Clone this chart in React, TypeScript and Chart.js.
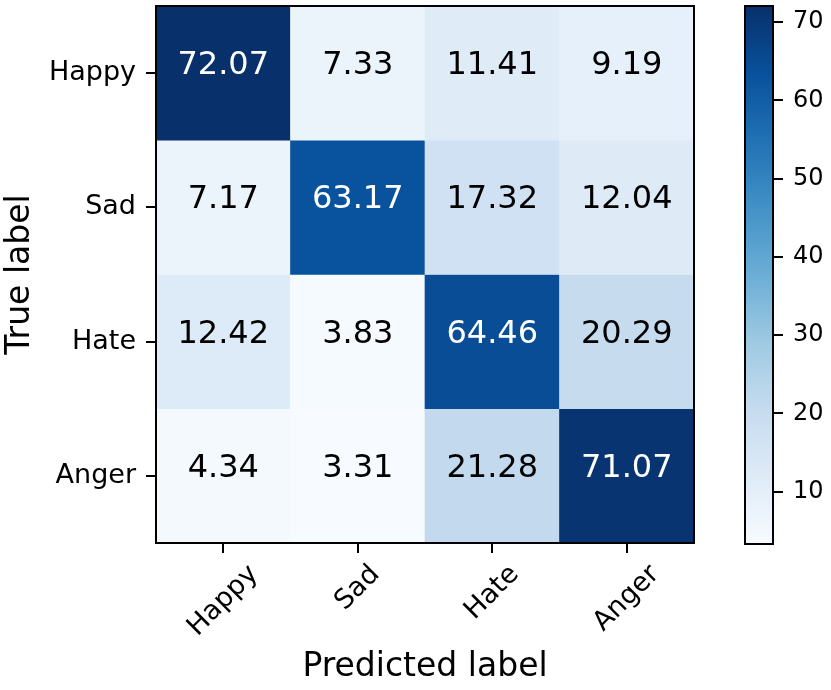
import React, { useEffect, useRef } from "react";
import { Chart, registerables } from "chart.js";

Chart.register(...registerables);

const categories = ["Happy", "Sad", "Hate", "Anger"];
const rowHappy = [72.07, 7.33, 11.41, 9.19];
const rowSad = [7.17, 63.17, 17.32, 12.04];
const rowHate = [12.42, 3.83, 64.46, 20.29];
const rowAnger = [4.34, 3.31, 21.28, 71.07];
const matrixRows = [rowHappy, rowSad, rowHate, rowAnger];
const rowTickValues = [0.5, 1.5, 2.5, 3.5];
const colorbarTicks = [10, 20, 30, 40, 50, 60, 70];
const xTitle = "Predicted label";
const yTitle = "True label";

const FONT = '"DejaVu Sans", "Liberation Sans", sans-serif';
const BLUES: number[][] = [
  [247, 251, 255],
  [222, 235, 247],
  [198, 219, 239],
  [158, 202, 225],
  [107, 174, 214],
  [66, 146, 198],
  [33, 113, 181],
  [8, 81, 156],
  [8, 48, 107],
];

const allValues = matrixRows.flat();
const vmin = Math.min(...allValues);
const vmax = Math.max(...allValues);

function blues(t: number): string {
  const tt = Math.max(0, Math.min(1, t));
  const p = tt * 8;
  const i = Math.min(7, Math.floor(p));
  const f = p - i;
  const a = BLUES[i];
  const b = BLUES[i + 1];
  const c = a.map((v, k) => Math.round(v + (b[k] - v) * f));
  return `rgb(${c[0]},${c[1]},${c[2]})`;
}

function colorFor(v: number) {
  return blues((v - vmin) / (vmax - vmin));
}

function noPad(scale: any) {
  scale.paddingTop = 0;
  scale.paddingBottom = 0;
  scale.paddingLeft = 0;
  scale.paddingRight = 0;
}

const framePlugin = {
  id: "frame",
  afterDraw(chart: any) {
    const { ctx, chartArea: ca } = chart;
    ctx.save();
    ctx.strokeStyle = "#000";
    ctx.lineWidth = 2;
    ctx.strokeRect(ca.left, ca.top, ca.right - ca.left, ca.bottom - ca.top);
    ctx.restore();
  },
};

const cellTextPlugin = {
  id: "cellText",
  afterDatasetsDraw(chart: any) {
    const { ctx } = chart;
    const xs = chart.scales.x;
    const ys = chart.scales.y;
    const thresh = vmax / 2;
    ctx.save();
    ctx.font = `32px ${FONT}`;
    ctx.textAlign = "center";
    ctx.textBaseline = "alphabetic";
    matrixRows.forEach((row, r) => {
      row.forEach((v, c) => {
        const x = xs.getPixelForValue(c);
        const y = ys.getPixelForValue(r + 0.5) + 1;
        ctx.fillStyle = v > thresh ? "#ffffff" : "#000000";
        ctx.fillText(v.toFixed(2), x, y);
      });
    });
    ctx.restore();
  },
  afterDraw(chart: any) {
    const { ctx, chartArea: ca } = chart;
    const xs = chart.scales.x;
    ctx.save();
    const fs = 27;
    ctx.font = `${fs}px ${FONT}`;
    ctx.fillStyle = "#000";
    ctx.textAlign = "center";
    ctx.textBaseline = "middle";
    categories.forEach((lab, i) => {
      const px = xs.getPixelForValue(i);
      const w = ctx.measureText(lab).width;
      const h = fs * 1.164;
      const H = (w + h) * Math.SQRT1_2;
      const cy = ca.bottom + 10 + 6 + H / 2;
      ctx.save();
      ctx.translate(px, cy);
      ctx.rotate(-Math.PI / 4);
      ctx.fillText(lab, 0, 0);
      ctx.restore();
    });
    ctx.restore();
  },
};

export default function App() {
  const mainRef = useRef<HTMLCanvasElement | null>(null);
  const barRef = useRef<HTMLCanvasElement | null>(null);

  useEffect(() => {
    if (!mainRef.current || !barRef.current) return;

    const datasets = matrixRows.map((row, r) => ({
      label: categories[r],
      data: row.map(() => 1),
      backgroundColor: row.map((v) => colorFor(v)),
      borderWidth: 0,
      barPercentage: 1,
      categoryPercentage: 1,
    }));

    const main = new Chart(mainRef.current, {
      type: "bar",
      data: { labels: categories, datasets },
      plugins: [cellTextPlugin, framePlugin],
      options: {
        responsive: false,
        animation: false,
        events: [],
        layout: { padding: { top: 6, right: 6, left: 0, bottom: 0 } },
        plugins: { legend: { display: false }, tooltip: { enabled: false } },
        scales: {
          x: {
            type: "category",
            stacked: true,
            offset: true,
            grid: {
              offset: false,
              drawOnChartArea: false,
              drawTicks: true,
              tickLength: 10,
              color: "#000",
              lineWidth: 2,
            },
            border: { display: false },
            ticks: { display: false },
            title: {
              display: true,
              text: xTitle,
              color: "#000",
              font: { family: FONT, size: 33 },
              padding: { top: 0, bottom: 3 },
            },
            afterFit(scale: any) {
              scale.height = 147;
              noPad(scale);
            },
          },
          y: {
            type: "linear",
            stacked: true,
            min: 0,
            max: 4,
            reverse: true,
            afterBuildTicks(scale: any) {
              scale.ticks = rowTickValues.map((v) => ({ value: v }));
            },
            grid: {
              drawOnChartArea: false,
              drawTicks: true,
              tickLength: 10,
              color: "#000",
              lineWidth: 2,
            },
            border: { display: false },
            ticks: {
              color: "#000",
              padding: 10,
              font: { family: FONT, size: 27 },
              callback: (v: any) => categories[Math.floor(Number(v))] ?? "",
            },
            title: {
              display: true,
              text: yTitle,
              color: "#000",
              font: { family: FONT, size: 33 },
              padding: { top: 1, bottom: 0 },
            },
            afterFit(scale: any) {
              scale.width = 156;
              noPad(scale);
            },
          },
        },
      } as any,
    });

    const bar = new Chart(barRef.current, {
      type: "bar",
      data: {
        labels: [""],
        datasets: [
          {
            data: [[vmin, vmax]] as any,
            backgroundColor: (c: any) => {
              const ch = c.chart;
              const ca = ch.chartArea;
              if (!ca) return blues(0.5);
              const g = ch.ctx.createLinearGradient(0, ca.bottom, 0, ca.top);
              BLUES.forEach((col, i) =>
                g.addColorStop(i / 8, `rgb(${col[0]},${col[1]},${col[2]})`)
              );
              return g;
            },
            borderWidth: 0,
            barPercentage: 1,
            categoryPercentage: 1,
          },
        ],
      },
      plugins: [framePlugin],
      options: {
        responsive: false,
        animation: false,
        events: [],
        layout: { padding: { top: 6, right: 0, left: 45, bottom: 146 } },
        plugins: { legend: { display: false }, tooltip: { enabled: false } },
        scales: {
          x: { display: false, offset: true },
          y: {
            type: "linear",
            position: "right",
            min: vmin,
            max: vmax,
            afterBuildTicks(scale: any) {
              scale.ticks = colorbarTicks.map((v) => ({ value: v }));
            },
            grid: {
              drawOnChartArea: false,
              drawTicks: true,
              tickLength: 10,
              color: "#000",
              lineWidth: 2,
            },
            border: { display: false },
            ticks: {
              color: "#000",
              padding: 10,
              font: { family: FONT, size: 24 },
            },
            afterFit(scale: any) {
              scale.width = 58;
              noPad(scale);
            },
          },
        },
      } as any,
    });

    return () => {
      main.destroy();
      bar.destroy();
    };
  }, []);

  return (
    <div style={{ position: "absolute", left: 0, top: 0, width: 831, height: 690, background: "#fff" }}>
      <canvas
        ref={mainRef}
        width={700}
        height={690}
        style={{ position: "absolute", left: 0, top: 0, width: 700, height: 690 }}
      />
      <canvas
        ref={barRef}
        width={131}
        height={690}
        style={{ position: "absolute", left: 700, top: 0, width: 131, height: 690 }}
      />
    </div>
  );
}
